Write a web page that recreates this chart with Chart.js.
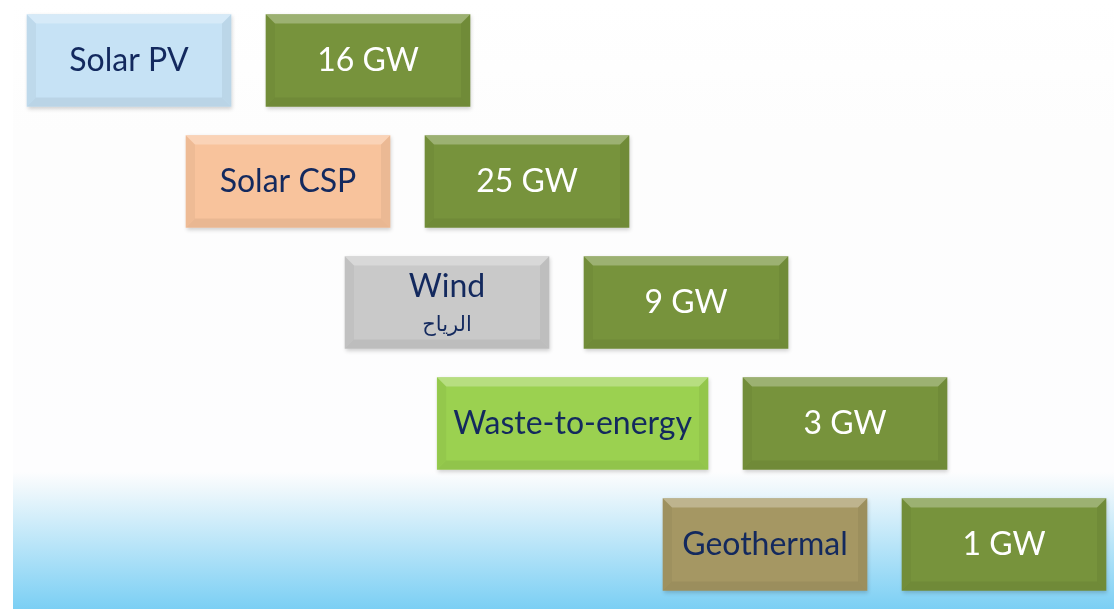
<!DOCTYPE html>
<html>
<head>
<meta charset="utf-8">
<title>Renewable capacity targets</title>
<script src="https://cdn.jsdelivr.net/npm/chart.js@4"></script>
<style>
  html, body { margin: 0; padding: 0; background: #fff; }
  canvas { display: block; }
</style>
</head>
<body>
<canvas id="capacity-chart" width="1114" height="609"></canvas>
<script>
// technology names, secondary (Arabic) names and target capacity per row
const technologies = ['Solar PV', 'Solar CSP', 'Wind', 'Waste-to-energy', 'Geothermal'];
const arabicNames = ['', '', 'الرياح', '', ''];
const capacityGW = [16, 25, 9, 3, 1];
const unit = 'GW';

const techColors = ['#c6e2f5', '#f8c39c', '#c9c9c9', '#9bd150', '#a59763'];
const capacityColor = '#77933c';
const nameColor = '#13295e';

const FONT_FAMILY = 'Lato, "DejaVu Sans", sans-serif';
const MAIN_FONT = `32px ${FONT_FAMILY}`;
const SUB_FONT = `21px "DejaVu Sans", sans-serif`;
const BOX_W = 204;
const GAP = 35;
const STEP = 159;
const PAD = 16;
const BEVEL = 9;

function textWidth(text, font) {
  const ctx = document.createElement('canvas').getContext('2d');
  ctx.font = font;
  return ctx.measureText(text).width;
}

// each row moves one step right; the name box sits just left of its capacity box
const nameWidths = technologies.map((t) => Math.max(BOX_W, textWidth(t, MAIN_FONT) + 2 * PAD));
const capacityBars = capacityGW.map((v, i) => [i * STEP, i * STEP + BOX_W]);
const nameBars = technologies.map((t, i) => [i * STEP - GAP - nameWidths[i], i * STEP - GAP]);

const backdrop = {
  id: 'backdrop',
  beforeDraw(chart) {
    const { ctx, width, height } = chart;
    ctx.save();
    ctx.fillStyle = '#ffffff';
    ctx.fillRect(0, 0, width, height);
    const g = ctx.createLinearGradient(0, 0, 0, height);
    g.addColorStop(0, '#ffffff');
    g.addColorStop(0.22, '#fdfdfd');
    g.addColorStop(0.775, '#fdfdfe');
    g.addColorStop(0.8, '#f0f8fc');
    g.addColorStop(1, '#7bcff4');
    ctx.fillStyle = g;
    ctx.fillRect(13, 0, width - 13, height);
    ctx.restore();
  },
  beforeDatasetsDraw(chart) {
    const { ctx } = chart;
    ctx.save();
    ctx.shadowColor = 'rgba(0, 0, 0, 0.18)';
    ctx.shadowBlur = 4;
    ctx.shadowOffsetX = 1;
    ctx.shadowOffsetY = 2;
  },
  afterDatasetsDraw(chart) {
    chart.ctx.restore();
  },
};

function poly(ctx, pts, color) {
  ctx.beginPath();
  ctx.moveTo(pts[0][0], pts[0][1]);
  pts.slice(1).forEach((p) => ctx.lineTo(p[0], p[1]));
  ctx.closePath();
  ctx.fillStyle = color;
  ctx.fill();
}

// soft bevelled edges plus the text inside each box
const boxDecor = {
  id: 'boxDecor',
  afterDatasetsDraw(chart) {
    const { ctx } = chart;
    ctx.save();
    chart.data.datasets.forEach((ds, di) => {
      chart.getDatasetMeta(di).data.forEach((el, i) => {
        const { x, y, base, height } = el.getProps(['x', 'y', 'base', 'height'], true);
        const l = Math.min(x, base);
        const r = Math.max(x, base);
        const t = y - height / 2;
        const b = y + height / 2;
        const e = BEVEL;
        poly(ctx, [[l, t], [r, t], [r - e, t + e], [l + e, t + e]], 'rgba(255,255,255,0.28)');
        poly(ctx, [[l, b], [r, b], [r - e, b - e], [l + e, b - e]], 'rgba(0,0,0,0.06)');
        poly(ctx, [[l, t], [l + e, t + e], [l + e, b - e], [l, b]], 'rgba(0,0,0,0.04)');
        poly(ctx, [[r, t], [r - e, t + e], [r - e, b - e], [r, b]], 'rgba(0,0,0,0.05)');

        const cx = (l + r) / 2;
        ctx.textAlign = 'center';
        ctx.textBaseline = 'middle';
        if (di === 0) {
          ctx.fillStyle = nameColor;
          ctx.font = MAIN_FONT;
          if (arabicNames[i]) {
            ctx.fillText(technologies[i], cx, y - 16);
            ctx.font = SUB_FONT;
            ctx.fillText(arabicNames[i], cx, y + 23);
          } else {
            ctx.fillText(technologies[i], cx, y);
          }
        } else {
          ctx.fillStyle = '#ffffff';
          ctx.font = MAIN_FONT;
          ctx.fillText(`${capacityGW[i]} ${unit}`, cx, y);
        }
      });
    });
    ctx.restore();
  },
};

new Chart(document.getElementById('capacity-chart'), {
  type: 'bar',
  data: {
    labels: technologies,
    datasets: [
      {
        label: 'Technology',
        data: nameBars,
        backgroundColor: techColors,
        grouped: false,
        barThickness: 92,
        borderWidth: 0,
      },
      {
        label: 'Capacity',
        data: capacityBars,
        backgroundColor: capacityColor,
        grouped: false,
        barThickness: 92,
        borderWidth: 0,
      },
    ],
  },
  options: {
    indexAxis: 'y',
    responsive: false,
    animation: false,
    layout: { padding: { top: 0, bottom: 4, left: 0, right: 0 } },
    scales: {
      x: { type: 'linear', min: -266, max: 848, display: false },
      y: { type: 'category', display: false, offset: true },
    },
    plugins: {
      legend: { display: false },
      tooltip: { enabled: false },
    },
  },
  plugins: [backdrop, boxDecor],
});
</script>
</body>
</html>
